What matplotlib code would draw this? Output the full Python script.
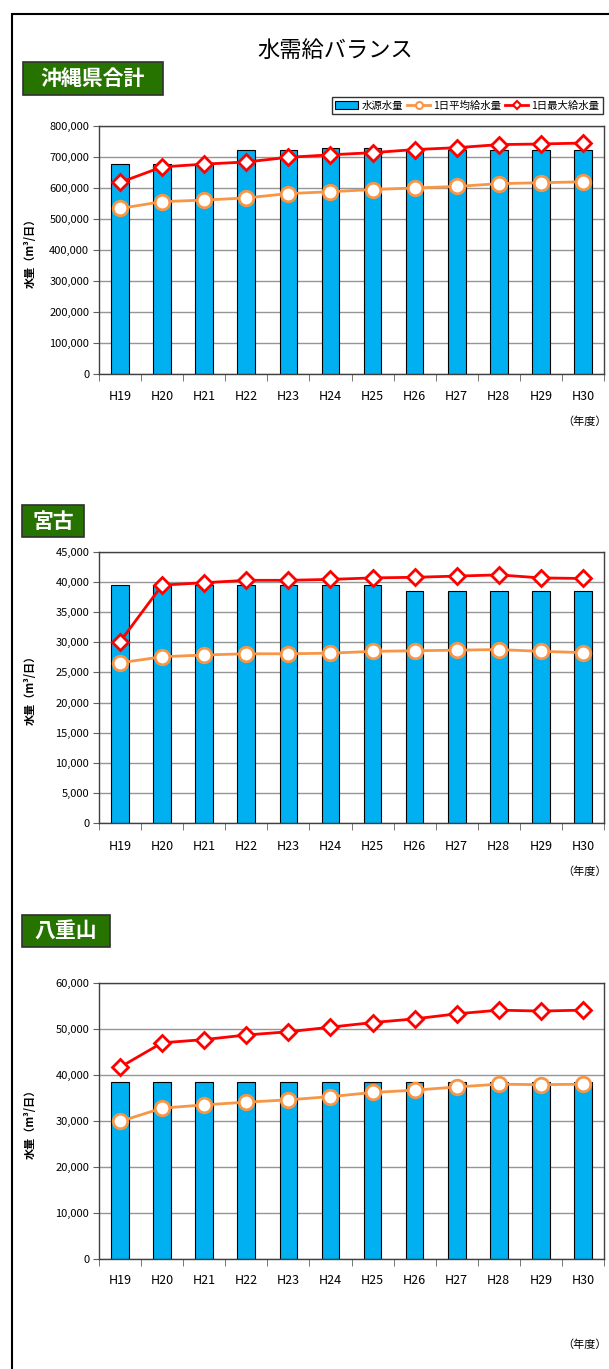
import matplotlib
matplotlib.use("Agg")
import matplotlib.pyplot as plt
from matplotlib.patches import Rectangle, Patch
from matplotlib.lines import Line2D
from matplotlib.ticker import FuncFormatter, MultipleLocator

plt.rcParams['font.family'] = ['Noto Sans CJK JP', 'DejaVu Sans']

years = ["H19", "H20", "H21", "H22", "H23", "H24", "H25", "H26", "H27", "H28", "H29", "H30"]

# 沖縄県合計
okinawa_source = [676000, 676000, 676000, 724000, 724000, 730000, 730000, 724000, 724000, 724000, 724000, 724000]
okinawa_avg = [534000, 556000, 561000, 568000, 582000, 588000, 595000, 600000, 605000, 614000, 617000, 620000]
okinawa_max = [618000, 668000, 677000, 684000, 699000, 707000, 714000, 724000, 730000, 740000, 742000, 745000]

# 宮古
miyako_source = [39600, 39600, 39600, 39600, 39600, 39600, 39600, 38500, 38500, 38500, 38500, 38500]
miyako_avg = [26600, 27600, 27900, 28100, 28100, 28200, 28500, 28600, 28700, 28800, 28500, 28300]
miyako_max = [30100, 39500, 39900, 40300, 40300, 40450, 40700, 40800, 41000, 41200, 40700, 40600]

# 八重山
yaeyama_source = [38400] * 12
yaeyama_avg = [29900, 32800, 33500, 34100, 34600, 35300, 36200, 36700, 37400, 38000, 37900, 38000]
yaeyama_max = [41700, 47000, 47700, 48700, 49400, 50400, 51400, 52200, 53300, 54100, 53900, 54100]

W, H = 609, 1369
BLUE = "#00B0F0"
ORANGE = "#F79646"
RED = "#FF0000"
GREEN = "#267300"

fig = plt.figure(figsize=(W / 100, H / 100), dpi=100)


def px_axes(x0, y0, x1, y1):
    return fig.add_axes([x0 / W, 1 - y1 / H, (x1 - x0) / W, (y1 - y0) / H])


def label_box(x0, y0, x1, y1, text):
    fig.patches.append(Rectangle((x0 / W, 1 - y1 / H), (x1 - x0) / W, (y1 - y0) / H,
                                 transform=fig.transFigure, facecolor=GREEN,
                                 edgecolor="#303030", linewidth=1.2))
    fig.text((x0 + x1) / 2 / W, 1 - (y0 + y1) / 2 / H, text, color="white",
             fontsize=15, fontweight="bold", ha="center", va="center")


def panel(box, source, avg, mx, ymax, step, xlab_y, nendo_y):
    ax = px_axes(*box)
    x = list(range(len(years)))
    ax.bar(x, source, width=0.42, color=BLUE, edgecolor="black", linewidth=0.8, zorder=2)
    ax.plot(x, avg, color=ORANGE, lw=2, marker="o", ms=10.5, mfc="white",
            mec=ORANGE, mew=2, zorder=3)
    ax.plot(x, mx, color=RED, lw=2, marker="D", ms=8, mfc="white",
            mec=RED, mew=2, zorder=4)
    ax.set_xlim(-0.5, len(years) - 0.5)
    ax.set_ylim(0, ymax)
    ax.yaxis.set_major_locator(MultipleLocator(step))
    ax.yaxis.set_major_formatter(FuncFormatter(lambda v, p: f"{int(v):,}"))
    ax.grid(axis="y", color="#969696", lw=1, zorder=0)
    ax.set_xticks(x)
    ax.set_xticklabels([])
    ax.set_xticks([i - 0.5 for i in range(len(years) + 1)], minor=True)
    ax.tick_params(axis="x", which="major", length=0)
    ax.tick_params(axis="x", which="minor", length=5, color="#606060", direction="out")
    ax.tick_params(axis="y", length=4, color="#606060", labelsize=8, pad=3)
    for s in ax.spines.values():
        s.set_color("#404040")
        s.set_linewidth(1)
    # category labels
    for i, yr in enumerate(years):
        xf = (box[0] + (i + 0.5) / len(years) * (box[2] - box[0])) / W
        fig.text(xf, 1 - xlab_y / H, yr, ha="center", va="center", fontsize=9)
    fig.text(607 / W, 1 - nendo_y / H, "（年度）", ha="right", va="center", fontsize=8)
    fig.text(30 / W, 1 - (box[1] + box[3]) / 2 / H, "水量（m³/日）", rotation=90,
             ha="center", va="center", fontsize=8, fontweight="bold")
    return ax


# outer frame
fig.patches.append(Rectangle((12 / W, -0.01), 1.0, 1 - 14 / H + 0.01,
                             transform=fig.transFigure, fill=False,
                             edgecolor="black", linewidth=1.5))

fig.text(335 / W, 1 - 50 / H, "水需給バランス", ha="center", va="center", fontsize=16)

label_box(23, 62, 163, 95, "沖縄県合計")
panel((99, 126, 604, 374), okinawa_source, okinawa_avg, okinawa_max, 800000, 100000, 397, 422)

label_box(22, 505, 84, 537, "宮古")
panel((99, 552, 604, 823), miyako_source, miyako_avg, miyako_max, 45000, 5000, 846, 872)

label_box(22, 915, 110, 947, "八重山")
panel((99, 983, 604, 1259), yaeyama_source, yaeyama_avg, yaeyama_max, 60000, 10000, 1281, 1345)

handles = [
    Patch(facecolor=BLUE, edgecolor="black", linewidth=0.8),
    Line2D([], [], color=ORANGE, lw=2, marker="o", ms=5, mfc="white", mec=ORANGE, mew=1.5),
    Line2D([], [], color=RED, lw=2, marker="D", ms=4, mfc="white", mec=RED, mew=1.5),
]
leg = fig.legend(handles, ["水源水量", "1日平均給水量", "1日最大給水量"],
                 loc="upper right", bbox_to_anchor=(603 / W, 1 - 97 / H), ncol=3,
                 fontsize=7.5, frameon=True, fancybox=False, edgecolor="black",
                 handlelength=2.2, handletextpad=0.3, columnspacing=0.4,
                 borderpad=0.35, borderaxespad=0)
leg.get_frame().set_linewidth(1)

fig.savefig("out.png", dpi=100)
